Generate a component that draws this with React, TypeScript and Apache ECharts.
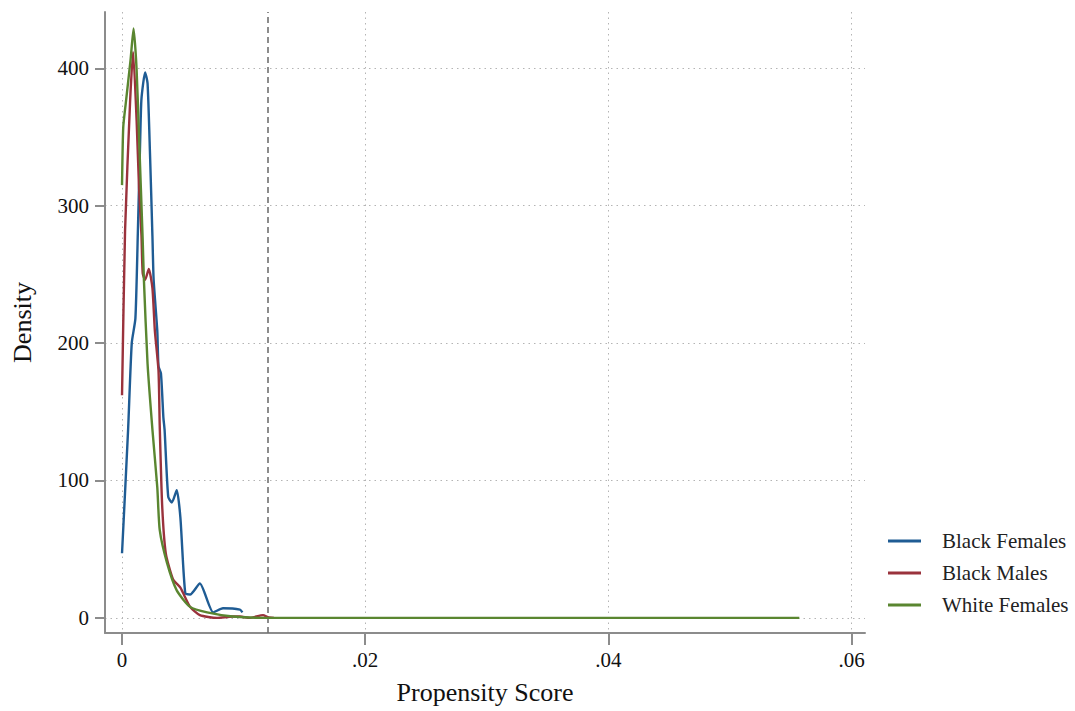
import React, { useEffect, useRef } from "react";
import * as echarts from "echarts";

const seriesNames = ["Black Females", "Black Males", "White Females"];
const seriesColors = ["#1f5c94", "#9a323c", "#5a8630"];

// [propensity score, density]
const blackFemales: [number, number][] = [
  [0, 47], [0.0005, 137], [0.0008, 200], [0.0011, 218], [0.0013, 280], [0.0015, 350],
  [0.0016, 378], [0.0019, 397], [0.0021, 389], [0.0023, 338], [0.0025, 278], [0.0026, 246],
  [0.0029, 209], [0.0030, 183], [0.0032, 178], [0.0034, 146], [0.0035, 137], [0.0038, 88],
  [0.0041, 84], [0.0045, 93], [0.0048, 73], [0.0052, 18], [0.0056, 17], [0.0064, 25],
  [0.0075, 4], [0.0083, 7], [0.0097, 6], [0.0099, 4],
];
const blackMales: [number, number][] = [
  [0, 162], [0.00025, 282], [0.00066, 375], [0.00091, 412], [0.0012, 362], [0.0014, 313],
  [0.0016, 278], [0.0017, 251], [0.0019, 246], [0.0022, 254], [0.0025, 240], [0.0027, 209],
  [0.0030, 180], [0.0031, 140], [0.0033, 82], [0.0036, 47], [0.0042, 28], [0.0048, 22],
  [0.0056, 8], [0.0064, 2], [0.0078, 0], [0.0091, 1], [0.0097, 1], [0.0105, 0],
  [0.0116, 2], [0.0120, 0.5], [0.0125, 0],
];
const whiteFemales: [number, number][] = [
  [0, 315], [0.0001, 357], [0.0003, 374], [0.0007, 406], [0.00095, 429], [0.0012, 399],
  [0.0014, 350], [0.0017, 275], [0.0018, 246], [0.0021, 185], [0.0025, 137], [0.0029, 95],
  [0.0031, 64], [0.0037, 40], [0.0045, 20], [0.0056, 8], [0.0070, 4], [0.0091, 1],
  [0.0119, 0], [0.02, 0], [0.03, 0], [0.04, 0], [0.05, 0], [0.0557, 0],
];
const xTicks = [0, 0.02, 0.04, 0.06];
const yTicks = [0, 100, 200, 300, 400];
const cutoff = 0.012;

const fmtX = (v: number) => (v === 0 ? "0" : v.toFixed(2).replace(/^0/, ""));

export default function App() {
  const ref = useRef<HTMLDivElement>(null);
  useEffect(() => {
    if (!ref.current) return;
    const chart = echarts.init(ref.current, null, { renderer: "svg" });
    const font = "'Liberation Serif', 'Times New Roman', serif";
    const axisColor = "#8c8c8c";
    const gridLine = { show: true, lineStyle: { color: "#b4b4b4", type: [1.5, 4] as any, width: 1 } };
    const allData = [blackFemales, blackMales, whiteFemales];
    chart.setOption({
      animation: false,
      backgroundColor: "#ffffff",
      textStyle: { fontFamily: font },
      grid: { left: 105, right: 210, top: 12, bottom: 78, containLabel: false },
      legend: {
        orient: "vertical",
        left: 883,
        top: 525,
        itemWidth: 33,
        itemHeight: 3,
        itemGap: 10,
        icon: "rect",
        data: seriesNames,
        textStyle: { fontFamily: font, fontSize: 21, color: "#222", lineHeight: 22, padding: [0, 0, 0, 16] },
      },
      xAxis: {
        type: "value",
        min: -0.0014,
        max: 0.0611,
        name: "Propensity Score",
        nameLocation: "middle",
        nameGap: 46,
        nameTextStyle: { fontFamily: font, fontSize: 26, color: "#111" },
        axisLine: { show: true, onZero: false, lineStyle: { color: axisColor, width: 2 } },
        axisTick: { show: true, length: 12, customValues: xTicks, lineStyle: { color: axisColor, width: 2 } },
        axisLabel: { customValues: xTicks, formatter: fmtX, fontFamily: font, fontSize: 21, color: "#111", margin: 16 },
        splitLine: gridLine,
      },
      yAxis: {
        type: "value",
        min: -11,
        max: 441,
        name: "Density",
        nameLocation: "middle",
        nameGap: 70,
        nameTextStyle: { fontFamily: font, fontSize: 26, color: "#111" },
        axisLine: { show: true, onZero: false, lineStyle: { color: axisColor, width: 2 } },
        axisTick: { show: true, length: 10, customValues: yTicks, lineStyle: { color: axisColor, width: 2 } },
        axisLabel: { customValues: yTicks, fontFamily: font, fontSize: 21, color: "#111", margin: 16 },
        splitLine: gridLine,
      },
      series: seriesNames.map((name, i) => ({
        name,
        type: "line",
        data: allData[i],
        showSymbol: false,
        symbol: "none",
        smooth: 0.2,
        color: seriesColors[i],
        lineStyle: { color: seriesColors[i], width: 2.4 },
        z: 3 + i,
        markLine:
          i === 2
            ? {
                silent: true,
                symbol: "none",
                precision: 4,
                label: { show: false },
                lineStyle: { color: "#707070", type: [6, 4] as any, width: 1.6 },
                data: [{ xAxis: cutoff }],
              }
            : undefined,
      })),
    });
    return () => chart.dispose();
  }, []);
  return <div ref={ref} style={{ position: "fixed", left: 0, top: 0, width: 1075, height: 711 }} />;
}
